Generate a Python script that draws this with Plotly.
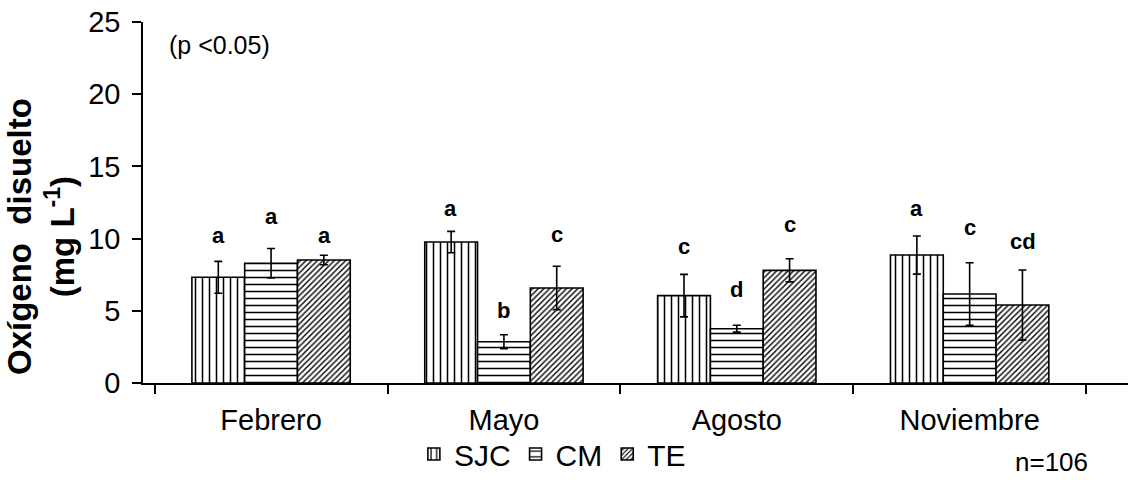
import plotly.graph_objects as go

months = ["Febrero", "Mayo", "Agosto", "Noviembre"]
series = ["SJC", "CM", "TE"]

sjc_mean = [7.32, 9.76, 6.05, 8.86]
sjc_err = [1.10, 0.74, 1.47, 1.32]
cm_mean = [8.29, 2.86, 3.76, 6.16]
cm_err = [1.02, 0.48, 0.24, 2.17]
te_mean = [8.52, 6.58, 7.80, 5.40]
te_err = [0.33, 1.50, 0.80, 2.43]

sjc_letters = ["a", "a", "c", "a"]
cm_letters = ["a", "b", "d", "c"]
te_letters = ["a", "c", "c", "cd"]
sjc_letter_y = [10.2, 12.1, 9.45, 12.1]
cm_letter_y = [11.5, 5.05, 6.5, 10.8]
te_letter_y = [10.2, 10.25, 10.95, 9.8]

means = [sjc_mean, cm_mean, te_mean]
errs = [sjc_err, cm_err, te_err]
letters = [sjc_letters, cm_letters, te_letters]
letter_ys = [sjc_letter_y, cm_letter_y, te_letter_y]
patterns = [dict(shape="|", size=7, solidity=0.22),
            dict(shape="-", size=7, solidity=0.22),
            dict(shape="/", size=4, solidity=0.35)]

FONT = "Liberation Sans, Arial, sans-serif"

fig = go.Figure()
for name, m, e, p in zip(series, means, errs, patterns):
    fig.add_trace(go.Bar(
        name=name, x=months, y=m,
        marker=dict(color="white",
                    line=dict(color="black", width=1.6),
                    pattern=dict(fgcolor="black", bgcolor="white", fillmode="replace", **p)),
        error_y=dict(type="data", array=e, visible=True, color="black", thickness=1.6, width=4),
    ))

offsets = [-53, 0, 53]
for lets, ys, off in zip(letters, letter_ys, offsets):
    for mo, t, yy in zip(months, lets, ys):
        fig.add_annotation(x=mo, y=yy, text="<b>" + t + "</b>", showarrow=False,
                           xshift=off, yanchor="middle", xanchor="center",
                           font=dict(family=FONT, size=22, color="black"))

fig.add_annotation(xref="paper", yref="paper", x=0.024, y=0.936, xanchor="left", yanchor="middle",
                   text="(p <0.05)", showarrow=False, font=dict(family=FONT, size=25, color="black"))
fig.add_annotation(xref="paper", yref="paper", x=0.922, y=-0.219, xanchor="center", yanchor="middle",
                   text="n=106", showarrow=False, font=dict(family=FONT, size=26, color="black"))
fig.add_annotation(xref="paper", yref="paper", x=(41 - 143) / 985, y=(383 - 237) / 361,
                   xanchor="center", yanchor="middle", textangle=-90,
                   text="<b>Oxígeno  disuelto<br>(mg L<sup>-1</sup>)</b>", showarrow=False,
                   font=dict(family=FONT, size=33, color="black"))

fig.update_layout(
    width=1128, height=480,
    margin=dict(l=143, r=0, t=22, b=97, autoexpand=False),
    paper_bgcolor="white", plot_bgcolor="white",
    barmode="group", bargap=0.32, bargroupgap=0,
    font=dict(family=FONT, color="black"),
    showlegend=True,
    legend=dict(orientation="h", x=0.275, xanchor="left", yref="container", y=-0.014, yanchor="bottom",
                font=dict(family=FONT, size=30, color="black"), bgcolor="rgba(0,0,0,0)",
                borderwidth=0),
    xaxis=dict(type="category", range=[-0.55, 3.68], showline=True, linecolor="black", linewidth=1.5,
               ticks="outside", tickson="boundaries", ticklen=9, tickwidth=1.5, tickcolor="black",
               ticklabelstandoff=10, automargin=False,
               tickfont=dict(family=FONT, size=29, color="black"), showgrid=False, zeroline=False),
    yaxis=dict(range=[0, 25], dtick=5, showline=True, linecolor="black", linewidth=1.5,
               ticks="outside", ticklen=9, tickwidth=1.5, tickcolor="black",
               ticklabelstandoff=6, automargin=False,
               tickfont=dict(family=FONT, size=29, color="black"), showgrid=False, zeroline=False),
)

fig.write_html("out.html")
